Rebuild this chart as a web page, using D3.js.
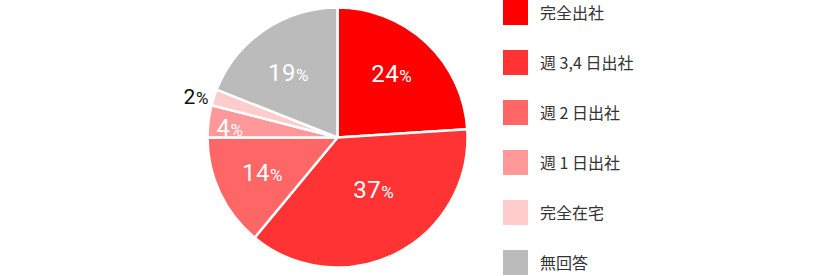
<!DOCTYPE html>
<html>
<head>
<meta charset="utf-8">
<script src="https://cdn.jsdelivr.net/npm/d3@7"></script>
<style>
  body { margin: 0; background: #fff; }
  svg { display: block; }
</style>
</head>
<body>
<svg id="chart" width="820" height="276"></svg>
<script>
// categories and values
var categories = ['完全出社', '週 3,4 日出社', '週 2 日出社', '週 1 日出社', '完全在宅', '無回答'];
var values = [24, 37, 14, 4, 2, 19];
var colors = ['#ff0000', '#ff3333', '#ff6666', '#ff9999', '#ffcccc', '#bbbbbb'];

// where each % label sits: distance from centre, and a small turn (deg) off the slice middle
var labelRadius = [84, 63, 83, 108, 147, 81];
var labelTurn = [-3, -8, 0, -2, -2, -3];

var svg = d3.select('#chart');

var cx = 337.5, cy = 137.5, radius = 130;

var pie = d3.pie().sort(null).value(function (d) { return d; });
var arcs = pie(values);

var arc = d3.arc().innerRadius(0).outerRadius(radius);

var g = svg.append('g').attr('transform', 'translate(' + cx + ',' + cy + ')');

g.selectAll('path')
    .data(arcs)
    .enter().append('path')
    .attr('d', arc)
    .attr('fill', function (d, i) { return colors[i]; })
    .attr('stroke', '#fff')
    .attr('stroke-width', 2.5)
    .attr('stroke-linejoin', 'round');

var labels = g.selectAll('text.pct')
    .data(arcs)
    .enter().append('text')
    .attr('class', 'pct')
    .attr('transform', function (d, i) {
        var a = (d.startAngle + d.endAngle) / 2 + labelTurn[i] * Math.PI / 180;
        var r = labelRadius[i];
        var x = Math.sin(a) * r, y = -Math.cos(a) * r;
        var off = d.data < 3 ? 7.5 : 8.5;
        return 'translate(' + x + ',' + (y + off) + ')';
    })
    .attr('text-anchor', 'middle')
    .attr('fill', function (d) { return d.data < 3 ? '#111' : '#fff'; })
    .style('font-family', 'Roboto, "DejaVu Sans", sans-serif')
    .style('letter-spacing', '0.5px');

labels.append('tspan')
    .style('font-size', function (d) { return d.data < 3 ? '21px' : '24px'; })
    .text(function (d) { return d.data; });
labels.append('tspan')
    .style('font-size', '17px')
    .text('%');

// legend
var y = d3.scaleBand().domain(categories).range([0, 300]).paddingInner(0);

var legend = svg.append('g').attr('transform', 'translate(503,0)');

var item = legend.selectAll('g')
    .data(categories)
    .enter().append('g')
    .attr('transform', function (d) { return 'translate(0,' + y(d) + ')'; });

item.append('rect')
    .attr('width', 25)
    .attr('height', 25)
    .attr('fill', function (d, i) { return colors[i]; });

item.append('text')
    .attr('x', 37)
    .attr('y', 18.5)
    .attr('fill', '#333')
    .style('font-family', '"Noto Sans CJK JP", sans-serif')
    .style('font-size', '16px')
    .text(function (d) { return d; });
</script>
</body>
</html>
